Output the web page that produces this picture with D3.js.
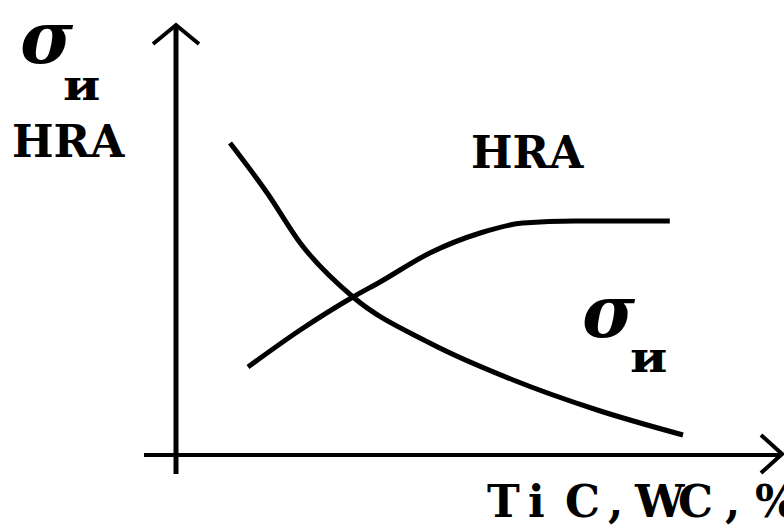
<!DOCTYPE html>
<html>
<head>
<meta charset="utf-8">
<script src="https://cdn.jsdelivr.net/npm/d3@7"></script>
<style>
  body { margin: 0; background: #fff; }
  text { fill: #000; }
</style>
</head>
<body>
<svg id="chart" width="784" height="532"></svg>
<script>
// strength curve (sigma) and hardness curve (HRA)
const sigmaX = [9, 15.2, 20.7, 29.5, 42.3, 56.2, 70.2, 84.5];
const sigmaY = [78, 65.5, 53, 39.5, 28, 18.75, 11.25, 5];
const hraX = [12, 20.7, 29.5, 34, 42.3, 50.7, 57.8, 66.5, 82.3];
const hraY = [22, 31.25, 39.5, 43.25, 50.5, 55.5, 58, 58.5, 58.5];

const svg = d3.select('#chart');

const x = d3.scaleLinear().domain([0, 100]).range([176, 776]);
const y = d3.scaleLinear().domain([0, 100]).range([455, 55]);

const line = d3.line()
    .x(d => x(d[0]))
    .y(d => y(d[1]))
    .curve(d3.curveMonotoneX);

// axes
svg.append('line')
    .attr('x1', 176).attr('y1', 474)
    .attr('x2', 176).attr('y2', 27)
    .attr('stroke', '#000').attr('stroke-width', 5);
svg.append('path')
    .attr('d', 'M153,44 L176,25 L199,44')
    .attr('fill', 'none').attr('stroke', '#000').attr('stroke-width', 4);

svg.append('line')
    .attr('x1', 144).attr('y1', 455)
    .attr('x2', 781).attr('y2', 455)
    .attr('stroke', '#000').attr('stroke-width', 4);
svg.append('path')
    .attr('d', 'M761,435 L782,454 L761,473')
    .attr('fill', 'none').attr('stroke', '#000').attr('stroke-width', 4);

// curves
svg.append('path')
    .datum(d3.zip(sigmaX, sigmaY))
    .attr('d', line)
    .attr('fill', 'none').attr('stroke', '#000').attr('stroke-width', 5);

svg.append('path')
    .datum(d3.zip(hraX, hraY))
    .attr('d', line)
    .attr('fill', 'none').attr('stroke', '#000').attr('stroke-width', 5);

// labels
const serif = '"DejaVu Serif", "Liberation Serif", serif';

function sigmaLabel(px, py) {
    svg.append('text')
        .attr('x', px).attr('y', py)
        .attr('font-family', serif)
        .attr('font-weight', 'bold')
        .attr('font-style', 'italic')
        .attr('font-size', 72)
        .text('σ');
}
function subLabel(px, py) {
    svg.append('text')
        .attr('transform', 'translate(' + px + ',' + py + ') scale(1.2,1)')
        .attr('font-family', serif)
        .attr('font-weight', 'bold')
        .attr('font-size', 42)
        .text('и');
}

sigmaLabel(20, 63);
subLabel(63, 100);
sigmaLabel(582, 337);
subLabel(630, 372);

svg.append('text')
    .attr('x', 12).attr('y', 157)
    .attr('font-family', serif)
    .attr('font-weight', 'bold')
    .attr('font-size', 44)
    .text('HRA');

svg.append('text')
    .attr('x', 471).attr('y', 168)
    .attr('font-family', serif)
    .attr('font-weight', 'bold')
    .attr('font-size', 44)
    .text('HRA');

svg.append('text')
    .attr('x', '487 528 565 608 635 678 725 755')
    .attr('y', 517)
    .attr('font-family', serif)
    .attr('font-weight', 'bold')
    .attr('font-size', 44)
    .text('TiC,WC,%');
</script>
</body>
</html>
